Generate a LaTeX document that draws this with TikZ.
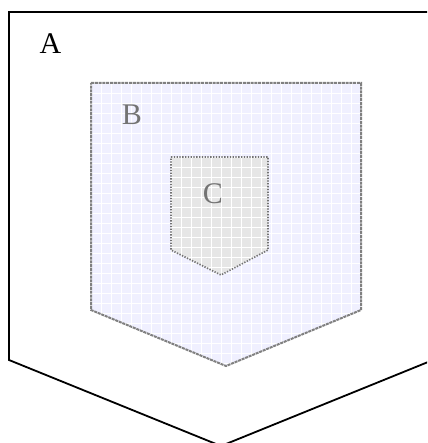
\documentclass[tikz,border=0pt]{standalone}
\usepackage{fontspec}
\setmainfont{Liberation Serif}
\begin{document}
\begin{tikzpicture}[x=1pt,y=-1pt,
  outerline/.style={draw=black,line width=1.8pt,line join=miter},
  bline/.style={draw=black!50,line width=2pt,dash pattern=on 3pt off 0.8pt},
  cline/.style={draw=black!55,line width=1.6pt,dash pattern=on 1.3pt off 1.5pt},
  lbl/.style={inner sep=0pt,font=\fontsize{30}{30}\selectfont}]
\useasboundingbox (0,0) rectangle (427,443);
\begin{scope}
\clip (0,0) rectangle (427,443);
\coordinate (a1) at (9,12);
\coordinate (a2) at (433,12);
\coordinate (a3) at (433,360);
\coordinate (a4) at (221,446);
\coordinate (a5) at (9,360);
\draw[outerline] (a1) -- (a2) -- (a3) -- (a4) -- (a5) -- cycle;
\end{scope}
% B
\coordinate (b1) at (91,83);
\coordinate (b2) at (361,83);
\coordinate (b3) at (361,310);
\coordinate (b4) at (226,366);
\coordinate (b5) at (91,310);
\fill[fill={rgb,255:red,240;green,240;blue,255}] (b1) -- (b2) -- (b3) -- (b4) -- (b5) -- cycle;
\begin{scope}
\clip (b1) -- (b2) -- (b3) -- (b4) -- (b5) -- cycle;
\foreach \i in {0,...,28} {\draw[white,line width=0.8pt] (91+10*\i,80) -- (91+10*\i,370);}
\foreach \i in {0,...,29} {\draw[white,line width=0.8pt] (85,83+10*\i) -- (365,83+10*\i);}
\end{scope}
\draw[bline] (b1) -- (b2) -- (b3) -- (b4) -- (b5) -- cycle;
% C
\coordinate (c1) at (171,157);
\coordinate (c2) at (268,157);
\coordinate (c3) at (268,250);
\coordinate (c4) at (221,275);
\coordinate (c5) at (171,250);
\fill[fill={rgb,255:red,230;green,230;blue,230}] (c1) -- (c2) -- (c3) -- (c4) -- (c5) -- cycle;
\begin{scope}
\clip (c1) -- (c2) -- (c3) -- (c4) -- (c5) -- cycle;
\foreach \i in {0,...,10} {\draw[white,line width=0.8pt] (171+10*\i,150) -- (171+10*\i,280);}
\foreach \i in {0,...,12} {\draw[white,line width=0.8pt] (165,157+10*\i) -- (275,157+10*\i);}
\end{scope}
\draw[cline] (c1) -- (c2) -- (c3) -- (c4) -- (c5) -- cycle;
\node[lbl] (la) at (50.5,44) {A};
\node[lbl,text=black!55] (lb) at (132,115) {B};
\node[lbl,text=black!55] (lc) at (213,194) {C};
\end{tikzpicture}
\end{document}
